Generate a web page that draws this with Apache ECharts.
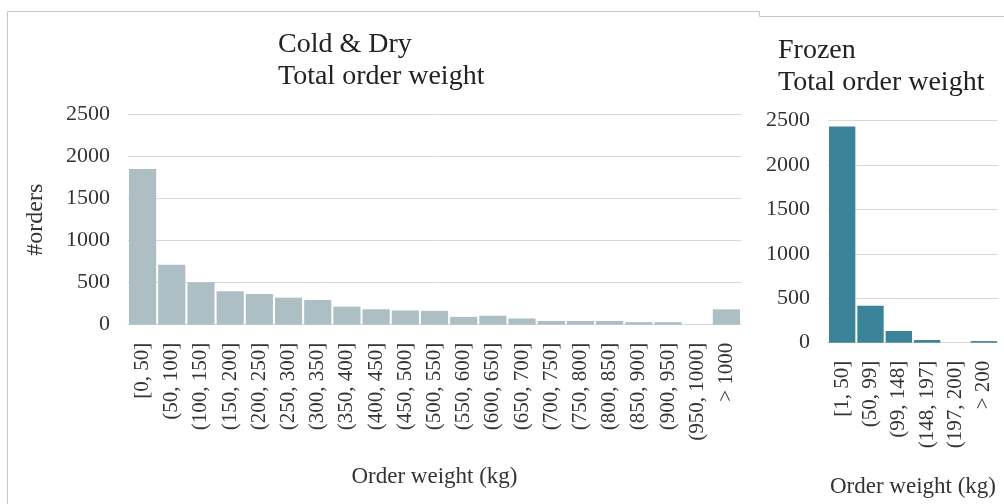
<!DOCTYPE html>
<html>
<head>
<meta charset="utf-8">
<script src="https://cdn.jsdelivr.net/npm/echarts@6/dist/echarts.min.js"></script>
<style>
  html, body { margin: 0; padding: 0; background: #fff; }
  #chart { width: 1004px; height: 504px; }
</style>
</head>
<body>
<div id="chart"></div>
<script>
// Order weight bins and order counts per temperature zone
const coldCategories = ['[0, 50]', '(50, 100]', '(100, 150]', '(150, 200]', '(200, 250]', '(250, 300]',
  '(300, 350]', '(350, 400]', '(400, 450]', '(450, 500]', '(500, 550]', '(550, 600]', '(600, 650]',
  '(650, 700]', '(700, 750]', '(750, 800]', '(800, 850]', '(850, 900]', '(900, 950]', '(950, 1000]', '> 1000'];
const coldOrders = [1855, 715, 505, 398, 366, 322, 295, 215, 184, 170, 165, 93, 107, 74, 45, 44, 44, 30, 30, 0, 183];

const frozenCategories = ['[1, 50]', '(50, 99]', '(99, 148]', '(148, 197]', '(197, 200]', '> 200'];
const frozenOrders = [2435, 417, 132, 30, 0, 18];

const yTicks = { min: 0, max: 2500, interval: 500 };

const FONT = '"Liberation Serif", "DejaVu Serif", serif';
const TEXT = '#333333';
const GRIDLINE = '#d9d9d9';

function xAxisFor(gridIndex, cats, nameGap) {
  return {
    type: 'category',
    gridIndex: gridIndex,
    data: cats,
    name: 'Order weight (kg)',
    nameLocation: 'middle',
    nameGap: nameGap,
    nameMoveOverlap: false,
    nameTextStyle: { fontFamily: FONT, fontSize: 23, color: TEXT },
    axisTick: { show: false },
    axisLine: { lineStyle: { color: GRIDLINE, width: 1 } },
    axisLabel: { interval: 0, rotate: 90, margin: 18, fontFamily: FONT, fontSize: 21, color: TEXT }
  };
}

function yAxisFor(gridIndex, extra) {
  return Object.assign({
    type: 'value',
    gridIndex: gridIndex,
    min: yTicks.min,
    max: yTicks.max,
    interval: yTicks.interval,
    axisLine: { show: false },
    axisTick: { show: false },
    splitLine: { lineStyle: { color: GRIDLINE, width: 1 } },
    axisLabel: {
      margin: 18, fontFamily: FONT, fontSize: 22, color: TEXT,
      formatter: function (v) { return String(v); }
    }
  }, extra || {});
}

const chart = echarts.init(document.getElementById('chart'), null, { renderer: 'canvas' });

chart.setOption({
  backgroundColor: '#ffffff',
  animation: false,
  title: [
    {
      text: 'Cold & Dry\nTotal order weight',
      left: 278, top: 29, padding: 0,
      textStyle: { fontFamily: FONT, fontSize: 28, fontWeight: 'normal', lineHeight: 32, color: '#222222' }
    },
    {
      text: 'Frozen\nTotal order weight',
      left: 778, top: 35, padding: 0,
      textStyle: { fontFamily: FONT, fontSize: 28, fontWeight: 'normal', lineHeight: 32, color: '#222222' }
    }
  ],
  graphic: [
    // panel frames
    { type: 'polyline', shape: { points: [[7.5, 504], [7.5, 11.5], [759.5, 11.5], [759.5, 16.5], [1004, 16.5]] },
      style: { stroke: '#c6c6c6', lineWidth: 1, fill: null }, silent: true }
  ],
  grid: [
    { left: 128, right: 263, top: 114.7, bottom: 179.3 },
    { left: 828, right: 6, top: 120.7, bottom: 161.3 }
  ],
  xAxis: [
    xAxisFor(0, coldCategories, 141),
    xAxisFor(1, frozenCategories, 133)
  ],
  yAxis: [
    yAxisFor(0, {
      name: '#orders', nameLocation: 'middle', nameRotate: 90, nameGap: 80,
      nameMoveOverlap: false,
      nameTextStyle: { fontFamily: FONT, fontSize: 24, color: TEXT }
    }),
    yAxisFor(1)
  ],
  series: [
    {
      type: 'bar', xAxisIndex: 0, yAxisIndex: 0, data: coldOrders,
      barCategoryGap: '7%',
      itemStyle: { color: '#adbfc4' }
    },
    {
      type: 'bar', xAxisIndex: 1, yAxisIndex: 1, data: frozenOrders,
      barCategoryGap: '7%',
      itemStyle: { color: '#3a8399' }
    }
  ]
});
</script>
</body>
</html>
